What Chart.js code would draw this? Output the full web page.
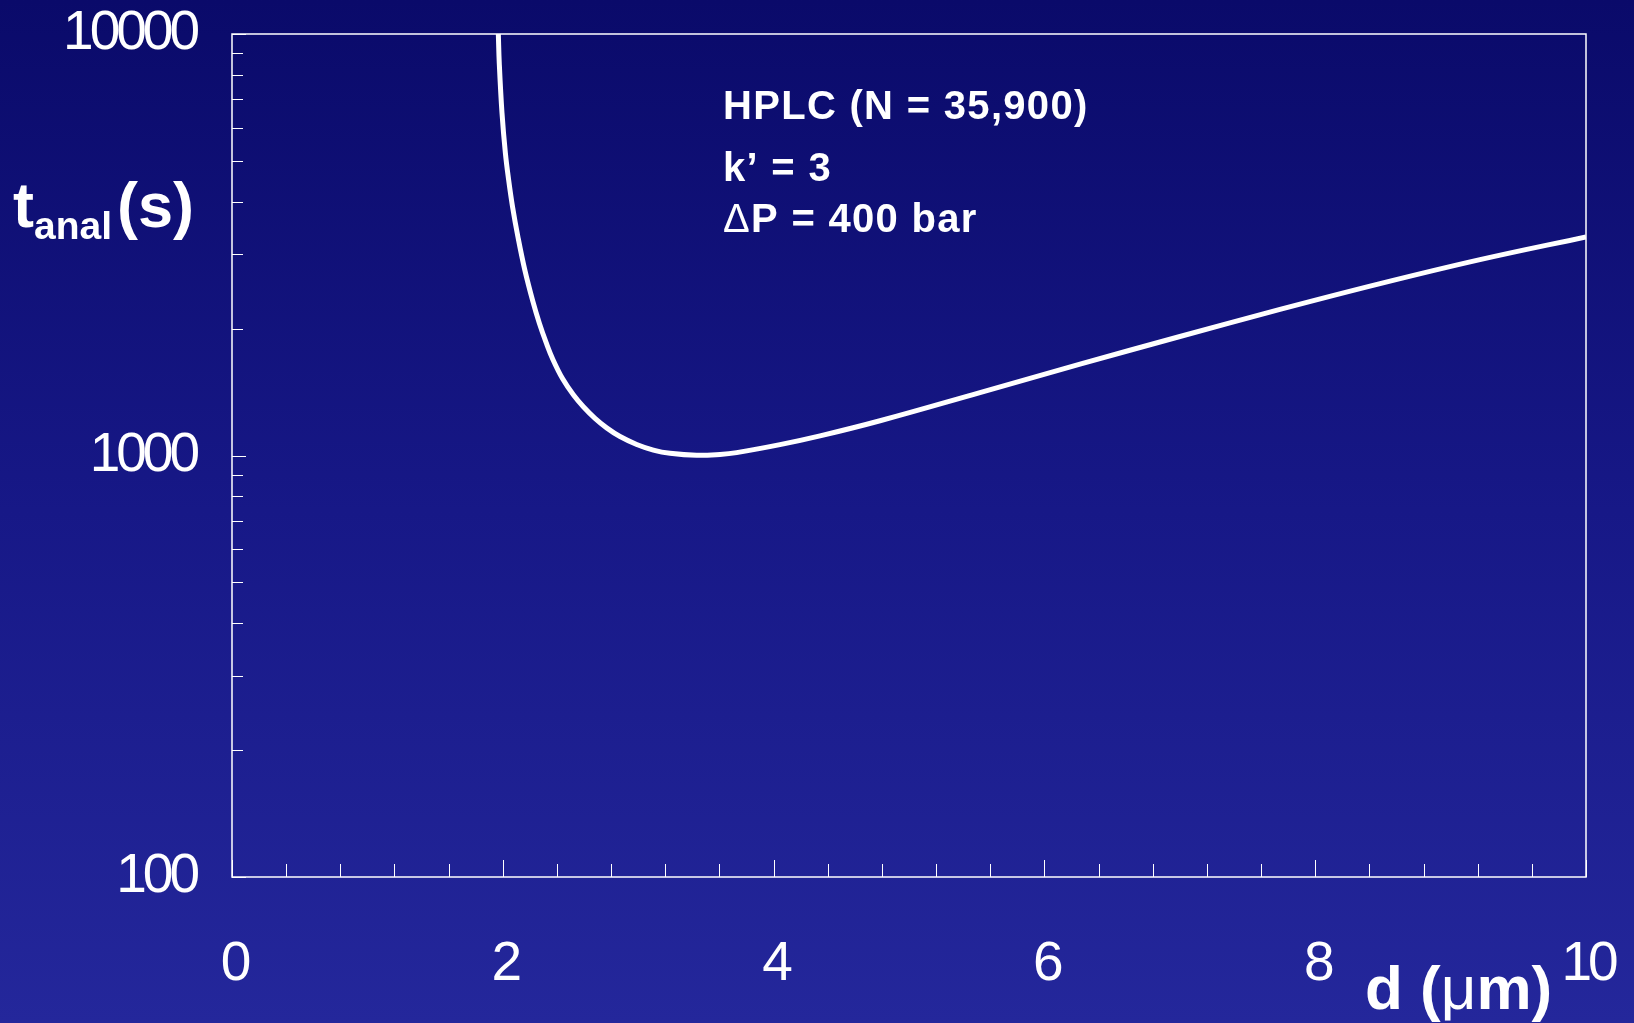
<!DOCTYPE html>
<html>
<head>
<meta charset="utf-8">
<title>Analysis time vs particle diameter</title>
<script src="https://cdn.jsdelivr.net/npm/chart.js@4.4.1/dist/chart.umd.min.js"></script>
<style>
  html, body { margin: 0; padding: 0; }
  body {
    width: 1634px; height: 1023px; overflow: hidden;
    background: linear-gradient(to bottom, #0a0a6a 0%, #171887 50%, #24279b 100%);
  }
  #wrap { position: relative; width: 1634px; height: 1023px; }
</style>
</head>
<body>
<div id="wrap"><canvas id="chart"></canvas></div>
<script>
// Particle diameter d (µm) and the resulting analysis time t_anal (s)
const particleDiameter = [1.967, 1.974, 1.994, 2.019, 2.043, 2.072, 2.111, 2.162, 2.222, 2.270, 2.321,
                          2.370, 2.442, 2.521, 2.595, 2.681, 2.767, 2.866, 2.989, 3.112, 3.235, 3.432,
                          3.604, 3.727, 4.047, 4.343, 4.786, 5.524, 6.263, 7.001, 7.740, 8.479, 9.217, 10];
const analysisTime = [10000, 8520, 6500, 5220, 4510, 3890, 3310, 2760, 2320, 2060, 1850,
                      1690, 1520, 1393, 1305, 1225, 1163, 1109, 1062, 1030, 1012, 1001,
                      1006, 1016, 1061, 1113, 1209, 1410, 1647, 1916, 2221, 2557, 2915, 3301];

// Axis ticks
const xTickLabels = [0, 2, 4, 6, 8, 10];
const xMinorTicks = [0.4, 0.8, 1.2, 1.6, 2.4, 2.8, 3.2, 3.6, 4.4, 4.8, 5.2, 5.6,
                     6.4, 6.8, 7.2, 7.6, 8.4, 8.8, 9.2, 9.6];
const yTickLabels = [100, 1000, 10000];
const yMinorTicks = [200, 300, 400, 500, 600, 700, 800, 900,
                     2000, 3000, 4000, 5000, 6000, 7000, 8000, 9000];

// Operating conditions shown in the plot
const conditions = ['HPLC (N = 35,900)', 'k\u2019 = 3', '\u0394P = 400 bar'];

const WHITE = '#ffffff';
const SANS = "'Liberation Sans', Arial, Helvetica, sans-serif";
const SYMBOL_CHARS = /[\u0394\u03bc\u00b5]/;

// Draw a string char by char; Greek letters use the regular weight
function drawMixed(ctx, text, x, y, size, spacing) {
  let cx = x;
  for (const ch of text) {
    ctx.font = (SYMBOL_CHARS.test(ch) ? '' : 'bold ') + size + 'px ' + SANS;
    ctx.fillText(ch, cx, y);
    cx += ctx.measureText(ch).width + (spacing || 0);
  }
  return cx;
}

// Tight digit spacing for the axis numbers (scales are drawn before the datasets)
const condensedTicks = {
  id: 'condensedTicks',
  beforeDraw(chart) { chart.ctx.letterSpacing = '-4px'; },
  beforeDatasetsDraw(chart) { chart.ctx.letterSpacing = '0px'; }
};

// Plot frame and inward tick marks, placed through the chart scales
const frameAndTicks = {
  id: 'frameAndTicks',
  beforeDatasetsDraw(chart) {
    const { ctx, chartArea: a, scales: { x, y } } = chart;
    ctx.save();
    ctx.strokeStyle = WHITE;
    ctx.lineWidth = 1.5;
    ctx.strokeRect(a.left, a.top, a.right - a.left, a.bottom - a.top);
    ctx.lineWidth = 1;
    const vTick = (v, len) => {
      const px = Math.round(x.getPixelForValue(v)) + 0.5;
      ctx.beginPath(); ctx.moveTo(px, a.bottom); ctx.lineTo(px, a.bottom - len); ctx.stroke();
    };
    const hTick = (v, len) => {
      const py = Math.round(y.getPixelForValue(v)) + 0.5;
      ctx.beginPath(); ctx.moveTo(a.left, py); ctx.lineTo(a.left + len, py); ctx.stroke();
    };
    xTickLabels.forEach(v => vTick(v, 17));
    xMinorTicks.forEach(v => vTick(v, 13));
    yTickLabels.forEach(v => hTick(v, 14));
    yMinorTicks.forEach(v => hTick(v, 11));
    ctx.restore();
  }
};

// Axis titles and the conditions block
const titles = {
  id: 'titles',
  afterDraw(chart) {
    const { ctx } = chart;
    ctx.save();
    ctx.letterSpacing = '0px';
    ctx.fillStyle = WHITE;
    ctx.textBaseline = 'alphabetic';
    ctx.textAlign = 'left';

    // y title: t with subscript "anal", then (s)
    let cx = 13;
    ctx.font = 'bold 63px ' + SANS;
    ctx.fillText('t', cx, 227);
    cx += ctx.measureText('t').width;
    ctx.font = 'bold 39px ' + SANS;
    ctx.fillText('anal', cx, 239);
    cx += ctx.measureText('anal').width + 5;
    ctx.font = 'bold 63px ' + SANS;
    ctx.fillText('(s)', cx, 227);

    // x title
    drawMixed(ctx, 'd (\u03bcm)', 1365, 1009, 62, 0);

    // conditions
    const baselines = [119, 181, 232];
    conditions.forEach((line, i) => drawMixed(ctx, line, 723, baselines[i], 40, 1.3));
    ctx.restore();
  }
};

new Chart(document.getElementById('chart'), {
  type: 'line',
  data: {
    datasets: [{
      data: particleDiameter.map((d, i) => ({ x: d, y: analysisTime[i] })),
      borderColor: WHITE,
      borderWidth: 5,
      pointRadius: 0,
      fill: false,
      tension: 0.4
    }]
  },
  options: {
    responsive: true,
    maintainAspectRatio: false,
    animation: false,
    layout: { padding: { top: 34, right: 48, bottom: 0, left: 0 } },
    plugins: { legend: { display: false }, tooltip: { enabled: false } },
    scales: {
      x: {
        type: 'linear', position: 'bottom', min: 0, max: 10,
        afterBuildTicks: s => { s.ticks = xTickLabels.map(v => ({ value: v })); },
        afterFit: s => { s.height = 146; s.paddingLeft = 0; s.paddingRight = 0; },
        grid: { display: false, drawTicks: false },
        border: { display: false },
        ticks: {
          color: WHITE, autoSkip: false, maxRotation: 0, padding: 55, labelOffset: 2,
          font: { family: SANS, size: 55, lineHeight: 1.2 },
          callback: v => String(v)
        }
      },
      y: {
        type: 'logarithmic', min: 100, max: 10000,
        afterBuildTicks: s => { s.ticks = yTickLabels.map(v => ({ value: v })); },
        afterFit: s => { s.width = 232; s.paddingTop = 0; s.paddingBottom = 0; },
        grid: { display: false, drawTicks: false },
        border: { display: false },
        ticks: {
          color: WHITE, autoSkip: false, padding: 36,
          font: { family: SANS, size: 55, lineHeight: 1 },
          callback: v => String(v)
        }
      }
    }
  },
  plugins: [condensedTicks, frameAndTicks, titles]
});
</script>
</body>
</html>
